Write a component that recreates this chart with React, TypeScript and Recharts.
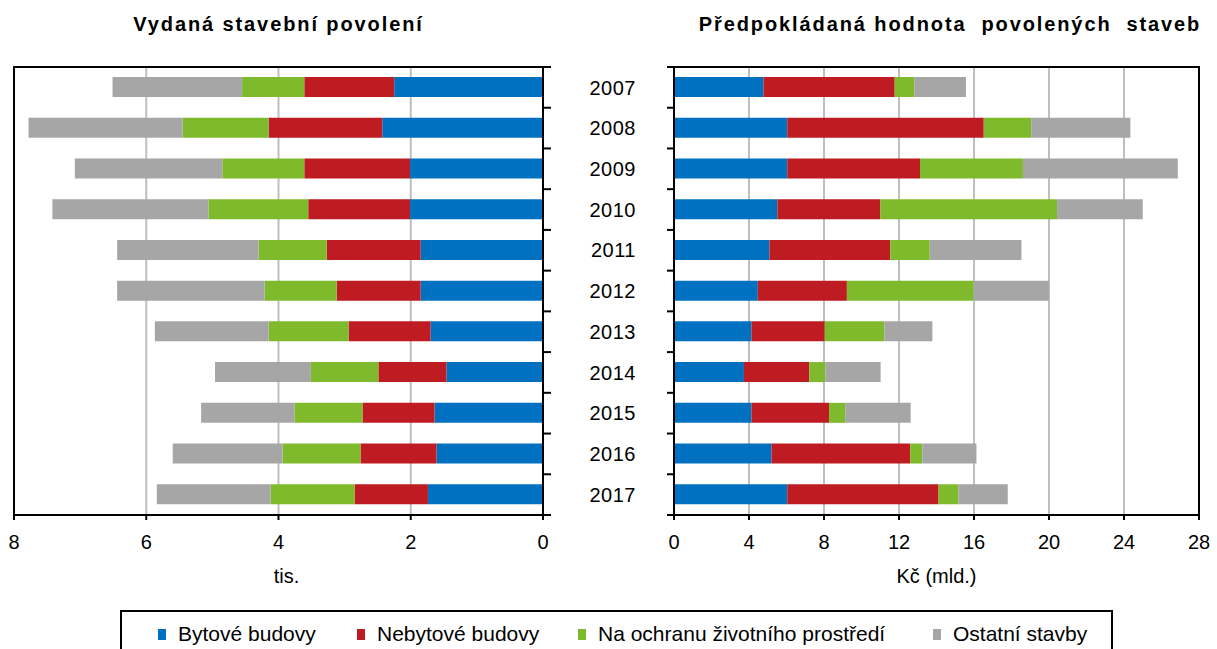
import React from 'react';
import {
  Bar,
  BarChart,
  CartesianGrid,
  Label,
  ReferenceArea,
  XAxis,
  YAxis,
} from 'recharts';

const years = ['2007', '2008', '2009', '2010', '2011', '2012', '2013', '2014', '2015', '2016', '2017'];

// Vydaná stavební povolení (tis.)
const permitsResidential = [2.25, 2.43, 2.01, 2.01, 1.85, 1.85, 1.7, 1.46, 1.64, 1.61, 1.74];
const permitsNonResidential = [1.36, 1.72, 1.6, 1.54, 1.42, 1.27, 1.24, 1.03, 1.09, 1.15, 1.11];
const permitsEnvironment = [0.94, 1.3, 1.24, 1.51, 1.03, 1.09, 1.21, 1.02, 1.03, 1.18, 1.27];
const permitsOther = [1.96, 2.33, 2.23, 2.36, 2.14, 2.23, 1.72, 1.45, 1.41, 1.66, 1.72];

// Předpokládaná hodnota (mld. Kč)
const valueResidential = [4.77, 6.04, 6.04, 5.51, 5.09, 4.47, 4.13, 3.73, 4.13, 5.2, 6.04];
const valueNonResidential = [7.0, 10.48, 7.08, 5.5, 6.44, 4.75, 3.91, 3.49, 4.14, 7.4, 8.07];
const valueEnvironment = [1.04, 2.53, 5.49, 9.42, 2.11, 6.76, 3.18, 0.85, 0.86, 0.64, 1.05];
const valueOther = [2.76, 5.29, 8.26, 4.57, 4.89, 4.02, 2.56, 2.95, 3.49, 2.89, 2.64];

const permitTicks = [0, 2, 4, 6, 8];
const valueTicks = [0, 4, 8, 12, 16, 20, 24, 28];

const series = [
  { key: 'bytove', name: 'Bytové budovy', color: '#0070c0' },
  { key: 'nebytove', name: 'Nebytové budovy', color: '#be1b22' },
  { key: 'ochrana', name: 'Na ochranu životního prostředí', color: '#7fba2c' },
  { key: 'ostatni', name: 'Ostatní stavby', color: '#a6a6a6' },
];

const permitsData = years.map((year, i) => ({
  year,
  bytove: permitsResidential[i],
  nebytove: permitsNonResidential[i],
  ochrana: permitsEnvironment[i],
  ostatni: permitsOther[i],
}));

const valueData = years.map((year, i) => ({
  year,
  bytove: valueResidential[i],
  nebytove: valueNonResidential[i],
  ochrana: valueEnvironment[i],
  ostatni: valueOther[i],
}));

const FONT = '"Liberation Sans", Arial, sans-serif';
const PLOT_TOP = 67;
const PLOT_H = 448;
const BAND = PLOT_H / years.length;
const LEGEND_ITEM_W = [199, 221, 355, 170];

// category ticks sit on the band boundaries, like in Excel
const LeftYTick = (props: any) => {
  const { x, y, index } = props;
  return (
    <g>
      <line x1={x} x2={x + 8} y1={y - BAND / 2} y2={y - BAND / 2} stroke="#000" strokeWidth={2} />
      {index === years.length - 1 && (
        <line x1={x} x2={x + 8} y1={y + BAND / 2} y2={y + BAND / 2} stroke="#000" strokeWidth={2} />
      )}
    </g>
  );
};

const RightYTick = (props: any) => {
  const { x, y, index, payload } = props;
  return (
    <g>
      <line x1={x - 7} x2={x} y1={y - BAND / 2} y2={y - BAND / 2} stroke="#000" strokeWidth={2} />
      {index === years.length - 1 && (
        <line x1={x - 7} x2={x} y1={y + BAND / 2} y2={y + BAND / 2} stroke="#000" strokeWidth={2} />
      )}
      <text
        x={x - 38}
        y={y}
        dy="0.36em"
        textAnchor="end"
        fill="#000"
        fontSize={20}
        fontFamily={FONT}
        letterSpacing={0.5}
      >
        {payload.value}
      </text>
    </g>
  );
};

const tickStyle = { fill: '#000', fontSize: 20, fontFamily: FONT };
const axisLineStyle = { stroke: '#000', strokeWidth: 2 };

const titleStyle: React.CSSProperties = {
  position: 'absolute',
  top: 13,
  textAlign: 'center',
  fontWeight: 'bold',
  fontSize: 20,
  letterSpacing: 1.9,
  lineHeight: '22px',
  whiteSpace: 'pre',
};

export default function App() {
  return (
    <div
      style={{
        position: 'absolute',
        left: 0,
        top: 0,
        width: 1217,
        height: 649,
        overflow: 'hidden',
        background: '#fff',
        fontFamily: FONT,
      }}
    >
      <div style={{ ...titleStyle, left: 14, width: 529 }}>Vydaná stavební povolení</div>
      <div style={{ ...titleStyle, left: 674, width: 552 }}>
        {'Předpokládaná hodnota  povolených  staveb'}
      </div>

      <div style={{ position: 'absolute', left: 0, top: 0 }}>
        <BarChart
          width={560}
          height={600}
          data={permitsData}
          layout="vertical"
          barSize={20}
          margin={{ top: PLOT_TOP, right: 0, left: 14, bottom: 0 }}
        >
          <CartesianGrid horizontal={false} stroke="#bfbfbf" strokeWidth={2} />
          <XAxis
            type="number"
            domain={[0, 8]}
            ticks={permitTicks}
            reversed
            height={85}
            tick={tickStyle}
            tickSize={5}
            tickMargin={15}
            tickLine={{ stroke: '#000', strokeWidth: 2 }}
            axisLine={axisLineStyle}
          >
            <Label value="tis." position="insideBottom" offset={17} dx={8} fill="#000" fontSize={20} fontFamily={FONT} />
          </XAxis>
          <YAxis
            type="category"
            dataKey="year"
            orientation="right"
            width={17}
            tickSize={0}
            tickMargin={0}
            tickLine={false}
            axisLine={axisLineStyle}
            tick={<LeftYTick />}
            interval={0}
          />
          {series.map((s) => (
            <Bar key={s.key} dataKey={s.key} name={s.name} stackId="a" fill={s.color} isAnimationActive={false} />
          ))}
          <ReferenceArea x1={0} x2={8} fill="none" stroke="#000" strokeWidth={2} />
        </BarChart>
      </div>

      <div style={{ position: 'absolute', left: 560, top: 0 }}>
        <BarChart
          width={657}
          height={600}
          data={valueData}
          layout="vertical"
          barSize={20}
          margin={{ top: PLOT_TOP, right: 18, left: 0, bottom: 0 }}
        >
          <CartesianGrid horizontal={false} stroke="#bfbfbf" strokeWidth={2} />
          <XAxis
            type="number"
            domain={[0, 28]}
            ticks={valueTicks}
            height={85}
            tick={tickStyle}
            tickSize={5}
            tickMargin={15}
            tickLine={{ stroke: '#000', strokeWidth: 2 }}
            axisLine={axisLineStyle}
          >
            <Label value="Kč (mld.)" position="insideBottom" offset={17} fill="#000" fontSize={20} fontFamily={FONT} />
          </XAxis>
          <YAxis
            type="category"
            dataKey="year"
            width={114}
            tickSize={0}
            tickMargin={0}
            tickLine={false}
            axisLine={axisLineStyle}
            tick={<RightYTick />}
            interval={0}
          />
          {series.map((s) => (
            <Bar key={s.key} dataKey={s.key} name={s.name} stackId="a" fill={s.color} isAnimationActive={false} />
          ))}
          <ReferenceArea x1={0} x2={28} fill="none" stroke="#000" strokeWidth={2} />
        </BarChart>
      </div>

      <div
        style={{
          position: 'absolute',
          left: 120,
          top: 610,
          width: 993,
          height: 60,
          border: '2px solid #000',
          boxSizing: 'border-box',
          display: 'flex',
          alignItems: 'flex-start',
          paddingLeft: 36,
          paddingTop: 10,
          fontSize: 21,
          lineHeight: '24px',
          color: '#000',
        }}
      >
        {series.map((s, i) => (
          <div
            key={s.key}
            style={{ display: 'flex', alignItems: 'center', whiteSpace: 'nowrap', width: LEGEND_ITEM_W[i] }}
          >
            <span style={{ display: 'inline-block', width: 8, height: 11, background: s.color, marginRight: 12 }} />
            {s.name}
          </div>
        ))}
      </div>
    </div>
  );
}
